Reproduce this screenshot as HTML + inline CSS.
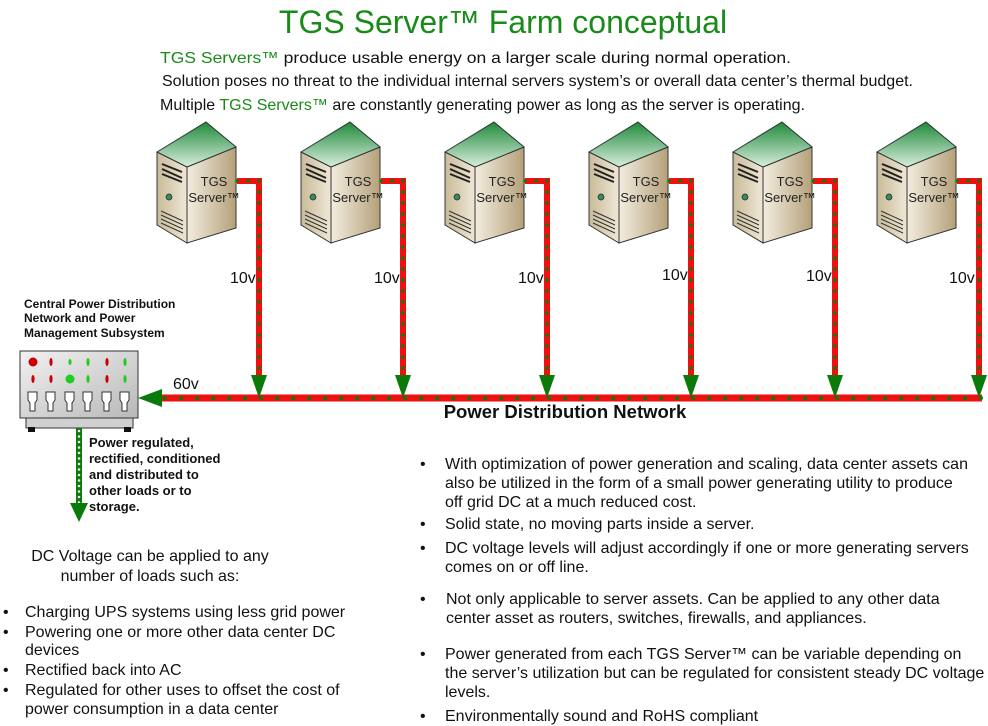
<!DOCTYPE html>
<html><head><meta charset="utf-8"><style>
body{margin:0;background:#fff}
svg{display:block;font-family:"Liberation Sans",Arial,sans-serif}
</style></head><body>
<svg width="988" height="726" viewBox="0 0 988 726" xmlns="http://www.w3.org/2000/svg">
<defs>
<linearGradient id="top" x1="0" y1="0" x2="0" y2="1"><stop offset="0" stop-color="#1f8a3a"/><stop offset="1" stop-color="#d8eedd"/></linearGradient>
<linearGradient id="front" x1="0" y1="0" x2="1" y2="0"><stop offset="0" stop-color="#c9bb98"/><stop offset="1" stop-color="#efe8d6"/></linearGradient>
<linearGradient id="side" x1="0" y1="0" x2="1" y2="0"><stop offset="0" stop-color="#f3ede0"/><stop offset="1" stop-color="#b5a17a"/></linearGradient>
<linearGradient id="box" x1="0" y1="0" x2="1" y2="1"><stop offset="0" stop-color="#f2f2f2"/><stop offset="1" stop-color="#b8b8b8"/></linearGradient>
<g id="srv">
<polygon points="0,32 30,47 30,123 0,105" fill="url(#front)" stroke="#333" stroke-width="1"/>
<polygon points="30,47 79,27 79,108 30,123" fill="url(#side)" stroke="#333" stroke-width="1"/>
<polygon points="0,32 49,2 79,27 30,47" fill="url(#top)" stroke="#333" stroke-width="1"/>
<path d="M5,44 L25,52 M5,49 L25,58 M5,54 L25,62" stroke="#222" stroke-width="2"/>
<circle cx="12" cy="77" r="3" fill="#3a8a6a" stroke="#222" stroke-width="0.7"/>
<path d="M4,91 L26,101 M4,95 L26,105 M4,99 L26,109 M4,103 L26,113" stroke="#333" stroke-width="1"/>
<text x="57" y="66" font-size="13" text-anchor="middle" fill="#222">TGS</text>
<text x="57" y="82" font-size="13" text-anchor="middle" fill="#222">Server™</text>
</g>
</defs>

<text x="503" y="33" font-size="32" fill="#1a8a1a" text-anchor="middle">TGS Server™ Farm conceptual</text>
<text x="160" y="63" font-size="16" fill="#111" textLength="631" lengthAdjust="spacingAndGlyphs"><tspan fill="#1a8a1a">TGS Servers™</tspan> produce usable energy on a larger scale during normal operation.</text>
<text x="162" y="86" font-size="16" fill="#111" textLength="751" lengthAdjust="spacingAndGlyphs">Solution poses no threat to the individual internal servers system’s or overall data center’s thermal budget.</text>
<text x="160" y="110" font-size="16" fill="#111" textLength="645" lengthAdjust="spacingAndGlyphs">Multiple <tspan fill="#1a8a1a">TGS Servers™</tspan> are constantly generating power as long as the server is operating.</text>

<line x1="160" y1="398" x2="982" y2="398" stroke="#f01010" stroke-width="7"/>
<line x1="165" y1="398" x2="982" y2="398" stroke="#0a7a0a" stroke-width="4" stroke-dasharray="0,16" stroke-linecap="round"/>
<polygon points="138,398 162,389 162,407" fill="#0a7a0a"/>
<text x="173" y="389" font-size="16" fill="#111">60v</text>
<text x="565" y="418" font-size="18.5" font-weight="bold" fill="#111" text-anchor="middle">Power Distribution Network</text>

<g>
<use href="#srv" x="157" y="120"/>
<use href="#srv" x="301" y="120"/>
<use href="#srv" x="445" y="120"/>
<use href="#srv" x="589" y="120"/>
<use href="#srv" x="733" y="120"/>
<use href="#srv" x="877" y="120"/>
</g>
<g fill="none">
<path d="M237,181 H259 V380 M381,181 H403 V380 M525,181 H547 V380 M669,181 H691 V380 M813,181 H835 V380 M957,181 H979 V380" stroke="#f01010" stroke-width="6"/>
<path d="M237,181 H259 V380 M381,181 H403 V380 M525,181 H547 V380 M669,181 H691 V380 M813,181 H835 V380 M957,181 H979 V380" stroke="#0a7a0a" stroke-width="3.5" stroke-dasharray="0,11" stroke-linecap="round"/>
</g>
<g fill="#0a7a0a">
<polygon points="251,375 267,375 259,398"/>
<polygon points="395,375 411,375 403,398"/>
<polygon points="539,375 555,375 547,398"/>
<polygon points="683,375 699,375 691,398"/>
<polygon points="827,375 843,375 835,398"/>
<polygon points="971,375 987,375 979,398"/>
</g>
<g font-size="16" fill="#111">
<text x="230" y="283">10v</text><text x="374" y="283">10v</text><text x="518" y="283">10v</text>
<text x="662" y="280">10v</text><text x="806" y="281">10v</text><text x="949" y="283">10v</text>
</g>

<g font-size="12" font-weight="bold" fill="#111">
<text x="24" y="308">Central Power Distribution</text>
<text x="24" y="322">Network and Power</text>
<text x="24" y="337">Management Subsystem</text>
</g>
<rect x="26" y="417" width="107" height="11" fill="#d0d0d0" stroke="#333"/>
<rect x="28" y="427" width="7" height="5" fill="#111"/><rect x="124" y="427" width="7" height="5" fill="#111"/>
<rect x="20" y="351" width="118" height="67" fill="url(#box)" stroke="#333"/>
<circle cx="33" cy="362" r="4.5" fill="#c00"/>
<ellipse cx="51" cy="362" rx="1.6" ry="4" fill="#c00"/>
<ellipse cx="70" cy="362" rx="1.6" ry="3" fill="#2c2"/>
<ellipse cx="88" cy="362" rx="1.6" ry="4" fill="#2c2"/>
<ellipse cx="107" cy="362" rx="1.6" ry="4" fill="#c00"/>
<ellipse cx="125" cy="362" rx="1.6" ry="4" fill="#2c2"/>
<ellipse cx="33" cy="379" rx="1.6" ry="4" fill="#c00"/>
<ellipse cx="51" cy="379" rx="1.6" ry="4" fill="#c00"/>
<circle cx="70" cy="379" r="4.5" fill="#2c2"/>
<ellipse cx="88" cy="379" rx="1.6" ry="4" fill="#2c2"/>
<ellipse cx="107" cy="379" rx="1.6" ry="4" fill="#c00"/>
<ellipse cx="125" cy="379" rx="1.6" ry="4" fill="#2c2"/>
<g fill="#fff" stroke="#333" stroke-width="1">
<path d="M28,392 h9 v8 l-2,3 v8 h-5 v-8 l-2,-3z"/>
<path d="M46,392 h9 v8 l-2,3 v8 h-5 v-8 l-2,-3z"/>
<path d="M65,392 h9 v8 l-2,3 v8 h-5 v-8 l-2,-3z"/>
<path d="M83,392 h9 v8 l-2,3 v8 h-5 v-8 l-2,-3z"/>
<path d="M102,392 h9 v8 l-2,3 v8 h-5 v-8 l-2,-3z"/>
<path d="M120,392 h9 v8 l-2,3 v8 h-5 v-8 l-2,-3z"/>
</g>
<line x1="79" y1="428" x2="79" y2="505" stroke="#0a7a0a" stroke-width="6"/>
<line x1="79" y1="431" x2="79" y2="505" stroke="#fff" stroke-width="2.5" stroke-dasharray="0,5.5" stroke-linecap="round"/>
<polygon points="70,503 88,503 79,522" fill="#0a7a0a"/>
<g font-size="13" font-weight="bold" fill="#111">
<text x="89" y="447">Power regulated,</text>
<text x="89" y="463">rectified, conditioned</text>
<text x="89" y="479">and distributed to</text>
<text x="89" y="495">other loads or to</text>
<text x="89" y="511">storage.</text>
</g>

<g font-size="16" fill="#111">
<text x="150" y="561" text-anchor="middle">DC Voltage can be applied to any</text>
<text x="150" y="581" text-anchor="middle">number of loads such as:</text>
<text x="3" y="617">•</text><text x="25" y="617">Charging UPS systems using less grid power</text>
<text x="3" y="637">•</text><text x="25" y="637">Powering one or more other data center DC</text>
<text x="25" y="655">devices</text>
<text x="3" y="675">•</text><text x="25" y="675">Rectified back into AC</text>
<text x="3" y="695">•</text><text x="25" y="695">Regulated for other uses to offset the cost of</text>
<text x="25" y="714">power consumption in a data center</text>

<text x="420" y="469">•</text><text x="445" y="469">With optimization of power generation and scaling, data center assets can</text>
<text x="445" y="488">also be utilized in the form of a small power generating utility to produce</text>
<text x="445" y="507">off grid DC at a much reduced cost.</text>
<text x="420" y="529">•</text><text x="445" y="529">Solid state, no moving parts inside a server.</text>
<text x="420" y="553">•</text><text x="445" y="553">DC voltage levels will adjust accordingly if one or more generating servers</text>
<text x="445" y="572">comes on or off line.</text>
<text x="420" y="604">•</text><text x="446" y="604">Not only applicable to server assets. Can be applied to any other data</text>
<text x="446" y="623">center asset as routers, switches, firewalls, and appliances.</text>
<text x="420" y="659">•</text><text x="445" y="659">Power generated from each TGS Server™ can be variable depending on</text>
<text x="445" y="678">the server’s utilization but can be regulated for consistent steady DC voltage</text>
<text x="445" y="697">levels.</text>
<text x="420" y="721">•</text><text x="445" y="721">Environmentally sound and RoHS compliant</text>
</g>
</svg>
</body></html>
